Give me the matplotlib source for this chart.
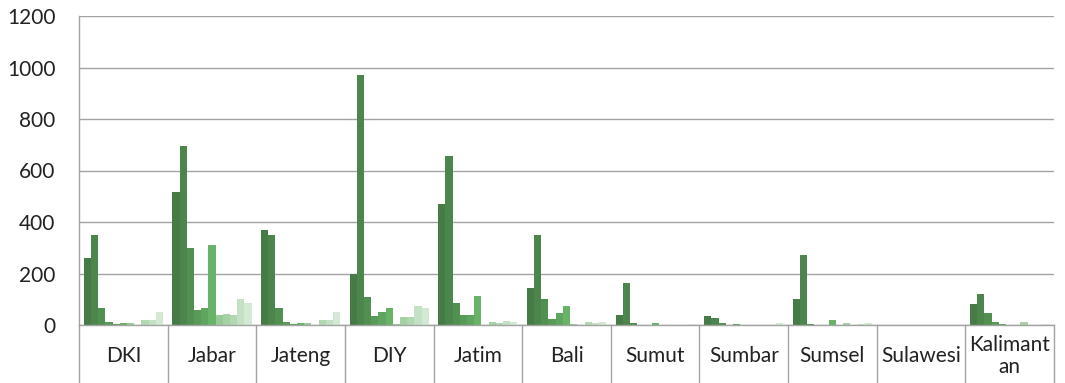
import matplotlib
matplotlib.use("Agg")
import matplotlib.pyplot as plt
from matplotlib.lines import Line2D
import numpy as np

regions = ["DKI", "Jabar", "Jateng", "DIY", "Jatim", "Bali", "Sumut",
           "Sumbar", "Sumsel", "Sulawesi", "Kalimant\nan"]

# one list per series (11 series), one value per region
s1 = [259, 516, 367, 199, 468, 142, 39, 35, 102, 0, 80]
s2 = [349, 696, 349, 971, 658, 348, 162, 27, 272, 0, 120]
s3 = [65, 298, 65, 109, 84, 101, 9, 9, 5, 0, 47]
s4 = [13, 57, 12, 35, 39, 23, 0, 0, 0, 0, 13]
s5 = [4, 65, 4, 49, 39, 45, 0, 5, 0, 0, 5]
s6 = [8, 310, 8, 65, 113, 72, 9, 0, 19, 0, 0]
s7 = [8, 39, 8, 5, 0, 4, 0, 0, 0, 0, 0]
s8 = [0, 43, 0, 31, 12, 0, 0, 0, 8, 0, 13]
s9 = [21, 38, 19, 31, 8, 12, 0, 0, 0, 0, 0]
s10 = [21, 101, 19, 72, 16, 8, 0, 0, 4, 0, 0]
s11 = [50, 87, 50, 65, 12, 12, 5, 9, 6, 0, 5]
series = [s1, s2, s3, s4, s5, s6, s7, s8, s9, s10, s11]

yticks = [0, 200, 400, 600, 800, 1000, 1200]

colors = ['#467a46', '#4c864c', '#529052', '#599a59', '#5fa45f', '#69b369',
          '#98ca98', '#a5d1a5', '#b2d8b2', '#c5e1c5', '#d3e9d3']

W, H = 1065, 383
fig = plt.figure(figsize=(W / 100, H / 100), dpi=100)
ax = fig.add_axes([79 / W, (H - 325) / H, (1054 - 79) / W, (325 - 16) / H])

font = "Lato"
n = len(series)
bw = 0.0813
x = np.arange(len(regions))
for k, (vals, c) in enumerate(zip(series, colors)):
    ax.bar(x - n * bw / 2 + (k + 0.5) * bw, vals, width=bw, color=c,
           edgecolor='none', zorder=3)

ax.set_xlim(-0.5, len(regions) - 0.5)
ax.set_ylim(0, 1200)
ax.set_yticks(yticks)
ax.set_yticklabels([str(v) for v in yticks], fontfamily=font, fontsize=15,
                   color='#222222')
ax.tick_params(axis='y', length=0, pad=17)
ax.set_xticks([])
ax.yaxis.grid(True, color='#a3a3a3', linewidth=1.0, zorder=0)
for sp in ['top', 'right', 'bottom']:
    ax.spines[sp].set_visible(False)
ax.spines['left'].set_color('#a3a3a3')
ax.spines['left'].set_linewidth(1.0)

# category axis: baseline, separators running down through the label band
trans = ax.get_xaxis_transform()
ybot = -(H - 325) / (325 - 16)
ax.add_line(Line2D([-0.5, len(regions) - 0.5], [0, 0], transform=trans,
                   color='#a3a3a3', linewidth=1.0, clip_on=False, zorder=4))
for b in np.arange(len(regions) + 1) - 0.5:
    ax.add_line(Line2D([b, b], [0, ybot], transform=trans, color='#a3a3a3',
                       linewidth=1.0, clip_on=False))
for xi, name in zip(x, regions):
    ax.text(xi, -31 / (325 - 16), name, transform=trans, ha='center',
            va='center', fontsize=15, fontfamily=font, color='#222222',
            linespacing=1.1)

fig.savefig("out.png", dpi=100)
